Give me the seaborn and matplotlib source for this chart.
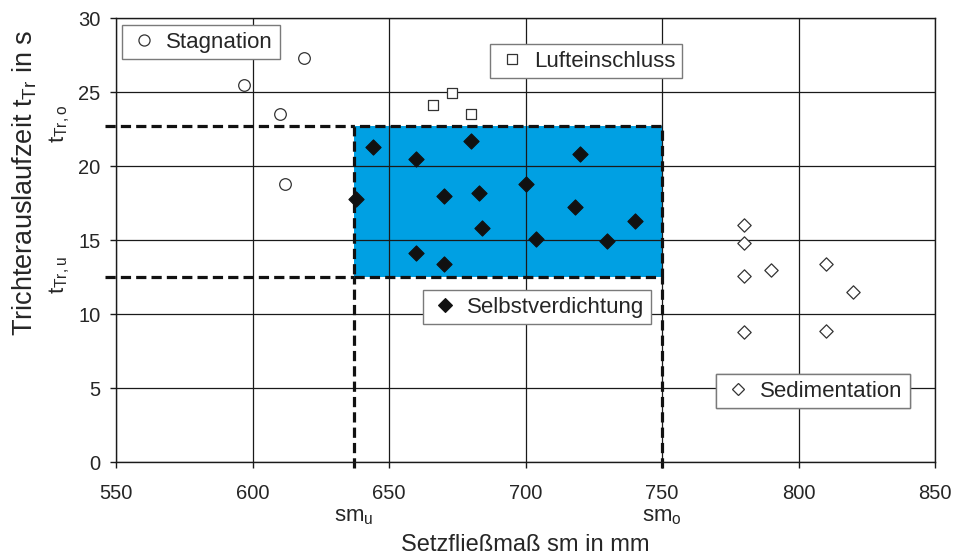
import matplotlib
matplotlib.use("Agg")
import matplotlib.pyplot as plt
import seaborn as sns
import pandas as pd
from matplotlib.patches import Rectangle
from matplotlib.lines import Line2D

# ---------------- data ----------------
stag_x = [597, 619, 610, 612]
stag_y = [25.5, 27.3, 23.5, 18.8]

luft_x = [666, 673, 680]
luft_y = [24.1, 24.9, 23.5]

selbst_x = [638, 644, 660, 680, 720, 700, 670, 683, 718, 740, 684, 704, 730, 660, 670]
selbst_y = [17.8, 21.3, 20.5, 21.7, 20.8, 18.8, 18.0, 18.2, 17.2, 16.3, 15.8, 15.05, 14.95, 14.1, 13.4]

sed_x = [780, 780, 780, 790, 810, 820, 780, 810]
sed_y = [16.0, 14.8, 12.6, 13.0, 13.4, 11.5, 8.8, 8.85]

sm_u, sm_o = 637, 750
t_u, t_o = 12.5, 22.7

x_ticks = [550, 600, 650, 700, 750, 800, 850]
y_ticks = [0, 5, 10, 15, 20, 25, 30]

labels = ["Stagnation", "Lufteinschluss", "Selbstverdichtung", "Sedimentation"]

# ---------------- style ----------------
sns.set_theme(style="white")
plt.rcParams["font.family"] = ["Liberation Sans", "DejaVu Sans"]
plt.rcParams["mathtext.fontset"] = "custom"
plt.rcParams["mathtext.rm"] = "Liberation Sans"
plt.rcParams["mathtext.it"] = "Liberation Sans"

fig = plt.figure(figsize=(9.59, 5.59), dpi=100)
ax = fig.add_axes([116/959, 1-462/559, (935-116)/959, (462-18)/559])

# grid
ax.set_xlim(550, 850)
ax.set_ylim(0, 30)
ax.set_xticks(x_ticks)
ax.set_yticks(y_ticks)
ax.grid(True, color="#1a1a1a", linewidth=0.9)
ax.set_axisbelow("line")
for s in ax.spines.values():
    s.set_color("#1a1a1a")
    s.set_linewidth(1.0)

ax.tick_params(axis="x", direction="out", length=4.5, width=1, color="#1a1a1a",
               pad=11, labelsize=14.5, bottom=True)
ax.tick_params(axis="y", direction="out", length=4, width=1, color="#1a1a1a",
               pad=7, labelsize=14.5, left=True)

# blue self-compacting region
ax.add_patch(Rectangle((sm_u, t_u), sm_o - sm_u, t_o - t_u, facecolor="#00A0E3",
                       edgecolor="none", zorder=1))
dash_kw = dict(color="#111111", linewidth=2.3, dashes=(3.2, 1.6), zorder=2.5, clip_on=False)
ax.plot([sm_u, sm_o, sm_o, sm_u, sm_u], [t_u, t_u, t_o, t_o, t_u], **dash_kw)
ax.plot([546, sm_u], [t_o, t_o], **dash_kw)
ax.plot([546, sm_u], [t_u, t_u], **dash_kw)
ax.plot([sm_u, sm_u], [-0.4, t_u], **dash_kw)
ax.plot([sm_o, sm_o], [-0.4, t_u], **dash_kw)

# scatter points
open_kw = dict(facecolor="white", edgecolor="#333333", linewidth=0.9, zorder=3, legend=False)
sns.scatterplot(x=stag_x, y=stag_y, marker="o", s=70, ax=ax, **open_kw)
sns.scatterplot(x=luft_x, y=luft_y, marker="s", s=55, ax=ax, **open_kw)
sns.scatterplot(x=sed_x, y=sed_y, marker="D", s=46, ax=ax, **open_kw)
sns.scatterplot(x=selbst_x, y=selbst_y, marker="D", s=60, facecolor="#111111",
                edgecolor="#111111", linewidth=0.8, zorder=4, legend=False, ax=ax)

ax.set_xlabel("")
ax.set_ylabel("")

# legend-like boxes
def box(handle, label, x0, ytop):
    lg = ax.legend([handle], [label], loc="upper left", bbox_to_anchor=(x0, ytop),
                   borderaxespad=0, fancybox=False, framealpha=1, edgecolor="#7a7a7a",
                   fontsize=16, borderpad=0.3, handletextpad=0.3, handlelength=1.4,
                   frameon=True)
    lg.get_frame().set_linewidth(1.0)
    lg.set_zorder(5)
    ax.add_artist(lg)

box(Line2D([], [], marker="o", ls="", ms=8, mfc="white", mec="#333333", mew=0.9),
    labels[0], (122-116)/819, (462-25)/444)
box(Line2D([], [], marker="s", ls="", ms=7, mfc="white", mec="#333333", mew=0.9),
    labels[1], (490-116)/819, (462-44)/444)
box(Line2D([], [], marker="D", ls="", ms=7, mfc="#111111", mec="#111111", mew=0.8),
    labels[2], (423-116)/819, (462-290)/444)
box(Line2D([], [], marker="D", ls="", ms=6.5, mfc="white", mec="#333333", mew=0.9),
    labels[3], (716-116)/819, (462-374)/444)

# axis annotations
ax.text(sm_u, -3.65, r"sm$_{\mathregular{u}}$", ha="center", va="center", fontsize=16,
        clip_on=False)
ax.text(sm_o, -3.65, r"sm$_{\mathregular{o}}$", ha="center", va="center", fontsize=16,
        clip_on=False)
fig.text(60/959, 1-124/559, r"t$_{\mathregular{Tr,o}}$", rotation=90, ha="center",
         va="center", fontsize=16)
fig.text(60/959, 1-275/559, r"t$_{\mathregular{Tr,u}}$", rotation=90, ha="center",
         va="center", fontsize=16)

fig.text(525/959, 1-545/559, "Setzfließmaß sm in mm", ha="center", va="center", fontsize=17)
fig.text(25/959, 1-183/559, r"Trichterauslaufzeit t$_{\mathregular{Tr}}$ in s", rotation=90,
         ha="center", va="center", fontsize=19.5)

fig.savefig("out.png", dpi=100)
